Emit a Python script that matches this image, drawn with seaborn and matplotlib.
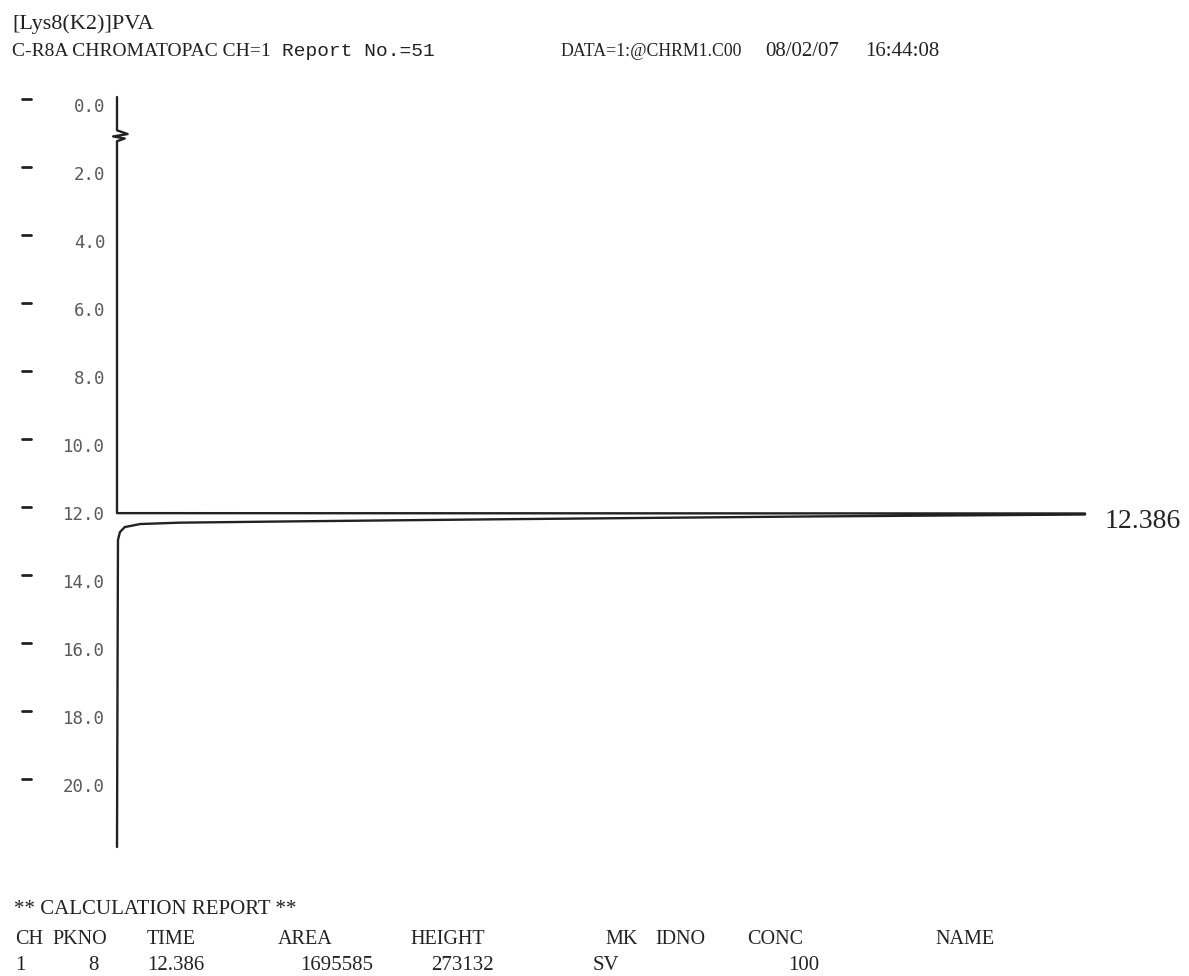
"""Chromatopac C-R8A printout: PVA trace, channel 1."""
import matplotlib.pyplot as plt
import matplotlib.transforms as mtransforms
import numpy as np
import pandas as pd
import seaborn as sns

# header lines of the printout
title_sample = "[Lys8(K2)]PVA"
title_device = "C-R8A CHROMATOPAC CH=1"
title_report = "Report No.=51"
title_data = "DATA=1:@CHRM1.C00"
title_date = "08/02/07"
title_clock = "16:44:08"

# trace: retention time (min) vs detector signal (scaled, peak clipped at 100)
trace_time = [-0.24, 0.74, 0.85, 0.92, 0.98, 1.06, 12.00, 12.01, 12.04,
              12.10, 12.18, 12.24, 12.28, 12.32, 12.41, 12.56, 12.79, 21.82]
trace_signal = [0.0, 0.0, 1.1, -0.4, 0.8, 0.0, 0.0, 100.0, 100.0,
                70.6, 39.6, 18.9, 6.5, 2.4, 0.8, 0.3, 0.1, 0.0]

time_ticks = [0.0, 2.0, 4.0, 6.0, 8.0, 10.0, 12.0, 14.0, 16.0, 18.0, 20.0]
peak_label = "12.386"

# calculation report
report_cols = ["CH", "PKNO", "TIME", "AREA", "HEIGHT", "MK", "IDNO", "CONC", "NAME"]
report_row = ["1", "8", "12.386", "1695585", "273132", "SV", "", "100", ""]

sns.set_theme(style="white")
plt.rcParams['font.family'] = ['Liberation Serif', 'DejaVu Serif']

fig = plt.figure(figsize=(11.89, 9.76), dpi=100)
W, H = 1189, 976
ax = fig.add_axes([117 / W, 1 - 847 / H, (1085 - 117) / W, (847 - 97) / H])

df = pd.DataFrame({'signal': trace_signal, 'time': trace_time})
sns.lineplot(data=df, x='signal', y='time', sort=False, estimator=None,
             orient='y', color='#222222', linewidth=1.7, ax=ax, clip_on=False)

ax.set_xlim(0, 100)
ax.set_ylim(21.82, -0.24)
ax.set_xticks([])
ax.set_yticks(time_ticks)
ax.set_yticklabels([f"{v:.1f}" for v in time_ticks],
                   family='DejaVu Sans Mono', fontsize=12.5, color='#5a5a5a')
ax.tick_params(axis='y', length=0, pad=8.5)
ax.set_xlabel('')
ax.set_ylabel('')
for s in ax.spines.values():
    s.set_visible(False)

# little printer dashes left of the time labels
blend = mtransforms.blended_transform_factory(fig.transFigure, ax.transData)
for v in time_ticks:
    ax.plot([22 / W, 31 / W], [v - 0.17, v - 0.17], transform=blend,
            color='#222222', linewidth=2.0, clip_on=False)

ax.text(1.02, trace_time[8] + 0.22, peak_label,
        transform=mtransforms.blended_transform_factory(ax.transAxes, ax.transData),
        fontsize=20, va='center', ha='left', color='#222222')

# header
tc = '#222222'
fig.text(12 / W, 1 - 24 / H, title_sample, fontsize=16, va='center', color=tc)
fig.text(12 / W, 1 - 51 / H, title_device, fontsize=14, va='center', color=tc)
fig.text(282 / W, 1 - 51 / H, title_report, fontsize=14, va='center', color=tc,
         family='Liberation Mono')
fig.text(560 / W, 1 - 51 / H, title_data, fontsize=12.8, va='center', color=tc)
fig.text(765 / W, 1 - 51 / H, title_date, fontsize=15, va='center', color=tc)
fig.text(865 / W, 1 - 51 / H, title_clock, fontsize=15, va='center', color=tc)

# calculation report
fig.text(14 / W, 1 - 910 / H, "** CALCULATION REPORT **", fontsize=15, va='center', color=tc)
col_x = [15, 52, 147, 278, 410, 605, 655, 747, 935]
for name, x in zip(report_cols, col_x):
    fig.text(x / W, 1 - 940 / H, name, fontsize=14.5, va='center', color=tc)
row_x = [15, 99, 147, 373, 494, 593, None, 819, None]
row_ha = ['left', 'right', 'left', 'right', 'right', 'left', 'left', 'right', 'left']
for val, x, ha in zip(report_row, row_x, row_ha):
    if val and x is not None:
        fig.text(x / W, 1 - 966 / H, val, fontsize=15, va='center', ha=ha, color=tc)

fig.savefig('out.png', dpi=100)
